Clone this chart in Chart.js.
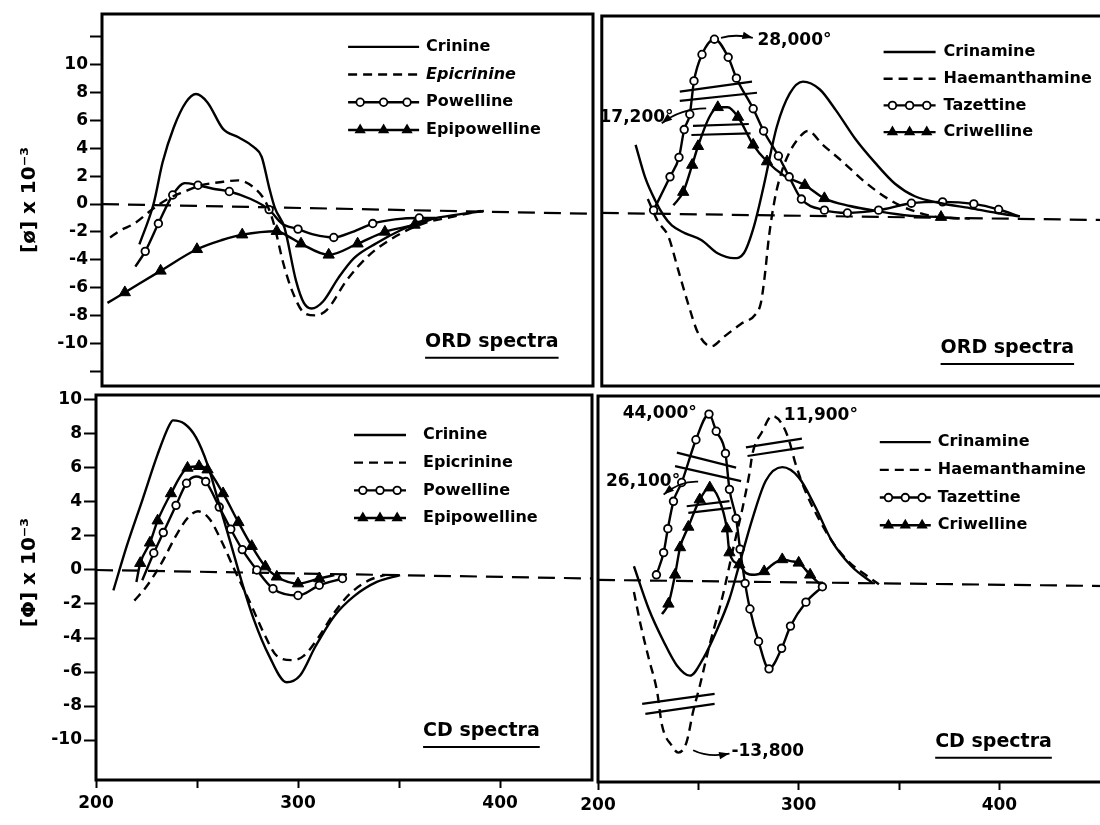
<!DOCTYPE html>
<html>
<head>
<meta charset="utf-8">
<title>ORD and CD spectra</title>
<script src="https://cdn.jsdelivr.net/npm/chart.js@4.4.1/dist/chart.umd.min.js"></script>
<style>
  html, body { margin: 0; padding: 0; background: #fff; }
  #page { position: relative; width: 1100px; height: 825px; overflow: hidden; }
  canvas { position: absolute; }
</style>
</head>
<body>
<div id="page">
  <canvas id="ordLeft" width="600" height="400" style="left:0;top:0"></canvas>
  <canvas id="ordRight" width="522" height="392" style="left:596px;top:0"></canvas>
  <canvas id="cdLeft" width="600" height="445" style="left:0;top:380px"></canvas>
  <canvas id="cdRight" width="560" height="435" style="left:558px;top:390px"></canvas>
</div>
<script>
const FONT = '"DejaVu Sans", sans-serif';

// axes
const xTicks = [200, 250, 300, 350, 400];
const xLabelled = [200, 300, 400];
const ordYTicks = [-12, -10, -8, -6, -4, -2, 0, 2, 4, 6, 8, 10, 12];
const cdYTicks = [-10, -8, -6, -4, -2, 0, 2, 4, 6, 8, 10];

// ORD, crinine series (top left)
const ordCrinineX = [221.5, 228.5, 233, 238.5, 244.5, 249.5, 255.2, 262.9, 270.5, 278, 282, 285.7, 288.6, 293.3, 299, 302.9, 306.7, 312.4, 320, 327.6, 339, 350.5, 362, 377, 392];
const ordCrinineY = [-2.9, 0, 3.0, 5.5, 7.3, 7.9, 7.3, 5.4, 4.8, 4.1, 3.4, 1.2, -0.3, -1.7, -5.5, -7.1, -7.5, -7.0, -5.3, -3.9, -2.8, -1.9, -1.2, -0.8, -0.5];
const ordEpicrinineX = [207, 212, 219, 228.6, 236, 244, 251, 263, 270.5, 278, 283.8, 287.6, 293, 297, 302.9, 308.6, 314.3, 324, 335, 348.6, 362, 377, 390.5];
const ordEpicrinineY = [-2.4, -1.9, -1.4, -0.3, 0.4, 0.9, 1.3, 1.6, 1.7, 1.2, 0.2, -1.2, -4.4, -6.2, -7.8, -8.0, -7.6, -5.5, -3.7, -2.3, -1.4, -0.9, -0.5];
const ordPowellineX = [219.5, 224.4, 230.9, 238, 244, 250.5, 258, 266, 276, 285.7, 292, 300, 308, 317.7, 327, 337, 348, 360, 368];
const ordPowellineY = [-4.5, -3.4, -1.4, 0.65, 1.5, 1.35, 1.1, 0.9, 0.4, -0.4, -1.4, -1.8, -2.2, -2.4, -2.0, -1.4, -1.1, -1.0, -1.0];
const ordPowellineM = [0, 1, 1, 1, 0, 1, 0, 1, 0, 1, 0, 1, 0, 1, 0, 1, 0, 1, 0];
const ordEpipowellineX = [205.7, 214.3, 232, 250, 262, 272.4, 289.5, 295, 301.5, 315.2, 329.5, 343, 357.7, 368];
const ordEpipowellineY = [-7.1, -6.35, -4.8, -3.25, -2.6, -2.2, -1.95, -2.3, -2.85, -3.65, -2.85, -2.0, -1.5, -1.0];
const ordEpipowellineM = [0, 1, 1, 1, 0, 1, 1, 0, 1, 1, 1, 1, 1, 0];
const ordLeftZeroX = [203, 446];
const ordLeftZeroY = [0, -0.7];

// ORD, crinamine series (top right)
const ordCrinamineX = [217.9, 222.8, 227.7, 232, 236, 242.5, 250.7, 258.9, 267.1, 272, 277, 281.9, 288.5, 295, 301.6, 309.9, 318, 327.9, 337.7, 347.6, 357.5, 370.6, 385, 398.5, 410];
const ordCrinamineY = [4.9, 2.5, 0.9, -0.2, -0.9, -1.45, -1.95, -2.9, -3.25, -2.9, -1.0, 1.9, 6.2, 8.6, 9.45, 8.9, 7.4, 5.3, 3.6, 2.1, 1.2, 0.7, 0.35, 0.0, -0.25];
const ordHaemanthamineX = [224, 229, 234.3, 239.2, 244.1, 249, 255.7, 262.2, 270.4, 277.8, 280.5, 282.5, 284.5, 287.5, 291, 295, 299, 304, 311.5, 321.3, 332.8, 344.3, 354, 369, 385];
const ordHaemanthamineY = [1.0, -0.6, -1.7, -4.1, -6.5, -8.6, -9.6, -8.9, -8.0, -7.3, -6.5, -4.5, -1.8, 1.0, 3.0, 4.4, 5.3, 5.9, 4.9, 3.7, 2.2, 1.0, 0.3, -0.3, -0.4];
const ordTazettineX = [226.9, 235.1, 239.6, 242.2, 245, 247.1, 251.1, 257.3, 264.2, 268.3, 276.7, 281.9, 289.3, 294.7, 300.8, 312.3, 323.8, 339.4, 355.8, 371.4, 387, 399.4, 410];
const ordTazettineY = [0.2, 2.6, 4.0, 6.0, 7.1, 9.5, 11.4, 12.5, 11.2, 9.7, 7.5, 5.9, 4.1, 2.6, 1.0, 0.2, 0.0, 0.2, 0.7, 0.8, 0.65, 0.25, -0.25];
const ordTazettineM = [1, 1, 1, 1, 1, 1, 1, 1, 1, 1, 1, 1, 1, 1, 1, 1, 1, 1, 1, 1, 1, 1, 0];
const ordCriwellineX = [236.8, 241.7, 246.2, 249.1, 254.8, 259, 264, 269.1, 276.7, 283.6, 292, 302.5, 312.3, 325, 340, 355, 370.6, 380];
const ordCriwellineY = [0.55, 1.5, 3.45, 4.8, 6.9, 7.6, 7.6, 6.9, 4.9, 3.7, 2.7, 2.0, 1.05, 0.5, 0.1, -0.2, -0.3, -0.4];
const ordCriwellineM = [0, 1, 1, 1, 0, 1, 0, 1, 1, 1, 0, 1, 1, 0, 0, 0, 1, 0];
const ordRightZeroX = [201, 456];
const ordRightZeroY = [0, -0.52];

// CD, crinine series (bottom left)
const cdCrinineX = [208.6, 215.2, 222.9, 230.5, 236.2, 238.1, 243.8, 249.5, 255.2, 260.9, 266.7, 272.4, 278.1, 285.7, 294.3, 301, 308.6, 318, 327.6, 339, 350.5];
const cdCrinineY = [-1.2, 1.4, 4.1, 6.8, 8.5, 8.8, 8.6, 7.8, 6.2, 3.9, 1.55, -0.8, -2.9, -5.05, -6.6, -6.2, -4.5, -2.7, -1.55, -0.7, -0.3];
const cdEpicrinineX = [219, 224.8, 232.4, 240, 245.7, 250.5, 256.2, 261.9, 268.6, 276.2, 283.8, 289.5, 297.1, 302.8, 310.5, 318, 325.7, 335.2, 342.9];
const cdEpicrinineY = [-1.8, -1.0, 0.4, 2.1, 3.1, 3.45, 3.0, 1.75, 0, -1.9, -3.9, -5.05, -5.3, -5.05, -3.9, -2.5, -1.4, -0.6, -0.3];
const cdPowellineX = [222.9, 228.6, 233.3, 239.6, 244.8, 249.5, 254.3, 261, 266.7, 272.4, 279.6, 287.6, 300, 310.5, 322];
const cdPowellineY = [-0.6, 1.0, 2.2, 3.8, 5.1, 5.5, 5.2, 3.7, 2.4, 1.2, 0.0, -1.1, -1.5, -0.9, -0.5];
const cdPowellineM = [0, 1, 1, 1, 1, 0, 1, 1, 1, 1, 1, 1, 1, 1, 1];
const cdEpipowellineX = [220, 221.9, 226.7, 230.5, 237.1, 245.3, 251, 255.2, 262.9, 270.5, 277.1, 283.8, 289.5, 300, 310.5, 318];
const cdEpipowellineY = [-0.7, 0.4, 1.6, 2.9, 4.5, 6.0, 6.1, 5.9, 4.5, 2.8, 1.4, 0.2, -0.4, -0.8, -0.5, -0.3];
const cdEpipowellineM = [0, 1, 1, 1, 1, 1, 1, 1, 1, 1, 1, 1, 1, 1, 1, 0];
const cdLeftZeroX = [200, 445.5];
const cdLeftZeroY = [0, -0.5];

// CD, crinamine series (bottom right)
const cdCrinamineX = [217.9, 225.3, 232.7, 239.3, 245.8, 252.4, 259, 265.5, 270.4, 277, 283.6, 291.8, 300, 308.2, 316.4, 326.3, 337];
const cdCrinamineY = [0.8, -1.7, -3.6, -5.0, -5.6, -4.6, -3.0, -1.1, 0.9, 3.6, 5.8, 6.6, 6.0, 4.3, 2.3, 0.8, -0.2];
const cdHaemanthamineX = [217.9, 221.2, 225.3, 229.4, 231.9, 236.8, 240, 244.1, 247.4, 250.7, 255.6, 262.2, 267.1, 272, 275.4, 277, 281.9, 286.8, 291.8, 295.1, 298.4, 303.3, 309.9, 316.4, 324.6, 334.5, 340];
const cdHaemanthamineY = [-0.7, -2.6, -4.6, -6.5, -8.5, -9.7, -10.1, -9.5, -7.7, -6.2, -3.8, -0.9, 1.7, 4.2, 6.2, 7.4, 8.7, 9.6, 9.1, 8.2, 6.8, 5.2, 3.6, 2.3, 1.1, 0.2, -0.25];
const cdTazettineX = [229.1, 232.7, 234.8, 237.6, 241.7, 248.8, 255.3, 258.9, 263.5, 265.5, 268.8, 270.8, 273.3, 275.7, 280, 285.2, 291.5, 295.9, 303.6, 311.8];
const cdTazettineY = [0.3, 1.6, 3.0, 4.6, 5.7, 8.2, 9.7, 8.7, 7.4, 5.3, 3.6, 1.8, -0.2, -1.7, -3.6, -5.2, -4.0, -2.7, -1.3, -0.4];
const cdTazettineM = [1, 1, 1, 1, 1, 1, 1, 1, 1, 1, 1, 1, 1, 1, 1, 1, 1, 1, 1, 1];
const cdCriwellineX = [231.9, 235.1, 238.4, 240.9, 245, 250.7, 255.7, 260, 264.2, 265.5, 270.4, 273.8, 278, 282.8, 287, 291.8, 296, 300, 305.7, 311];
const cdCriwellineY = [-2.0, -1.4, 0.3, 1.9, 3.1, 4.7, 5.4, 4.8, 3.0, 1.6, 0.9, 0.4, 0.3, 0.5, 0.9, 1.2, 1.1, 1.0, 0.3, -0.3];
const cdCriwellineM = [0, 1, 1, 1, 1, 1, 1, 0, 1, 1, 1, 0, 0, 1, 0, 1, 0, 1, 1, 0];
const cdRightZeroX = [200, 456];
const cdRightZeroY = [0, -0.36];

function pts(xs, ys) {
  return xs.map((x, i) => ({ x: x, y: ys[i] }));
}

function curve(label, xs, ys, dash) {
  return {
    label: label,
    data: pts(xs, ys),
    borderColor: '#000',
    borderWidth: 2.4,
    borderDash: dash || [],
    pointRadius: 0,
    cubicInterpolationMode: 'monotone',
    inLegend: true
  };
}

function marked(label, xs, ys, ms, style) {
  const ds = curve(label, xs, ys);
  const tri = style === 'triangle';
  ds.pointStyle = style;
  ds.pointRadius = ctx => ms[ctx.dataIndex] ? (tri ? 6.5 : 3.8) : 0;
  ds.pointBackgroundColor = tri ? '#000' : '#fff';
  ds.pointBorderColor = '#000';
  ds.pointBorderWidth = tri ? 1 : 1.8;
  return ds;
}

function zeroLine(xs, ys) {
  return {
    data: pts(xs, ys),
    borderColor: '#000',
    borderWidth: 2.2,
    borderDash: [17, 9],
    pointRadius: 0,
    inLegend: false
  };
}

// labels, break marks and arrows, placed in data units of each panel
const DECOR = {
  ordLeft: {
    sides: 'tlbr',
    legend: { x: 324.8, y: 11.29, gap: 27.7, len: 71, textGap: 7 },
    notes: [{ text: 'ORD spectra', x: 362.9, y: -9.9, underline: true }],
    breaks: [],
    arrows: []
  },
  ordRight: {
    sides: 'tlb',
    legend: { x: 341.9, y: 11.58, gap: 26.7, len: 52, textGap: 8 },
    notes: [
      { text: 'ORD spectra', x: 370.4, y: -9.71, underline: true },
      { text: '28,000°', x: 278.8, y: 12.4 },
      { text: '17,200°', x: 236.9, y: 6.83, align: 'right' }
    ],
    breaks: [[240.0, 8.73, 276.1, 9.45], [240.0, 8.06, 278.6, 8.65], [246.6, 6.26, 274.5, 6.40], [245.8, 5.61, 275.4, 5.73]],
    arrows: [[260.6, 12.6, 268, 12.9, 276.5, 12.6], [253.2, 7.53, 240, 7.5, 231, 6.45]]
  },
  cdLeft: {
    sides: 'tlbr',
    legend: { x: 327.7, y: 7.94, gap: 27.7, len: 52, textGap: 17 },
    notes: [{ text: 'CD spectra', x: 361.9, y: -9.47, underline: true }],
    breaks: [],
    arrows: []
  },
  cdRight: {
    sides: 'tlb',
    legend: { x: 340.4, y: 8.06, gap: 27.7, len: 51, textGap: 7 },
    notes: [
      { text: 'CD spectra', x: 368, y: -9.47, underline: true },
      { text: '44,000°', x: 212.3, y: 9.76 },
      { text: '26,100°', x: 204, y: 5.76 },
      { text: '11,900°', x: 292.6, y: 9.6 },
      { text: '-13,800', x: 266.5, y: -10.06 }
    ],
    breaks: [[239.3, 7.45, 268.8, 6.57], [238.4, 6.66, 271.3, 5.78],
             [244.2, 4.31, 265.5, 4.61], [245, 3.92, 266.4, 4.22],
             [273.7, 7.75, 301.6, 8.27], [274.5, 7.25, 302.5, 7.75],
             [222, -7.25, 258.1, -6.67], [223.6, -7.84, 258.1, -7.25]],
    arrows: [[249.9, 5.75, 241, 5.8, 232.7, 5.0], [247.4, -9.96, 255, -10.4, 265.5, -10.16]]
  }
};

function drawMark(ctx, style, x, y) {
  ctx.save();
  ctx.setLineDash([]);
  ctx.beginPath();
  if (style === 'triangle') {
    const r = 6.5;
    ctx.moveTo(x, y - r);
    ctx.lineTo(x + r * 0.866, y + r * 0.5);
    ctx.lineTo(x - r * 0.866, y + r * 0.5);
    ctx.closePath();
    ctx.fillStyle = '#000';
    ctx.fill();
  } else {
    ctx.arc(x, y, 3.8, 0, Math.PI * 2);
    ctx.fillStyle = '#fff';
    ctx.fill();
    ctx.lineWidth = 1.8;
    ctx.strokeStyle = '#000';
    ctx.stroke();
  }
  ctx.restore();
}

function drawArrow(ctx, x0, y0, cx, cy, x1, y1) {
  ctx.beginPath();
  ctx.moveTo(x0, y0);
  ctx.quadraticCurveTo(cx, cy, x1, y1);
  ctx.stroke();
  const ang = Math.atan2(y1 - cy, x1 - cx);
  ctx.beginPath();
  ctx.moveTo(x1, y1);
  ctx.lineTo(x1 - 11 * Math.cos(ang - 0.35), y1 - 11 * Math.sin(ang - 0.35));
  ctx.lineTo(x1 - 11 * Math.cos(ang + 0.35), y1 - 11 * Math.sin(ang + 0.35));
  ctx.closePath();
  ctx.fill();
}

const decorPlugin = {
  id: 'decor',
  afterDraw(chart) {
    const d = DECOR[chart.canvas.id];
    const ctx = chart.ctx;
    const a = chart.chartArea;
    const px = v => chart.scales.x.getPixelForValue(v);
    const py = v => chart.scales.y.getPixelForValue(v);
    ctx.save();
    ctx.strokeStyle = '#000';
    ctx.fillStyle = '#000';
    ctx.setLineDash([]);

    // panel frame
    ctx.lineWidth = 3;
    ctx.beginPath();
    if (d.sides.includes('t')) { ctx.moveTo(a.left - 1.5, a.top); ctx.lineTo(a.right + 1.5, a.top); }
    if (d.sides.includes('b')) { ctx.moveTo(a.left - 1.5, a.bottom); ctx.lineTo(a.right + 1.5, a.bottom); }
    if (d.sides.includes('l')) { ctx.moveTo(a.left, a.top); ctx.lineTo(a.left, a.bottom); }
    if (d.sides.includes('r')) { ctx.moveTo(a.right, a.top); ctx.lineTo(a.right, a.bottom); }
    ctx.stroke();

    // axis break marks
    ctx.lineWidth = 2.2;
    d.breaks.forEach(b => {
      ctx.beginPath();
      ctx.moveTo(px(b[0]), py(b[1]));
      ctx.lineTo(px(b[2]), py(b[3]));
      ctx.stroke();
    });

    // arrows
    ctx.lineWidth = 1.8;
    d.arrows.forEach(r => drawArrow(ctx, px(r[0]), py(r[1]), px(r[2]), py(r[3]), px(r[4]), py(r[5])));

    // notes
    ctx.textBaseline = 'middle';
    d.notes.forEach(n => {
      ctx.font = 'bold ' + (n.underline ? 19 : 17) + 'px ' + FONT;
      ctx.textAlign = n.align || 'left';
      const x = px(n.x), y = py(n.y);
      ctx.fillText(n.text, x, y);
      if (n.underline) {
        const w = ctx.measureText(n.text).width;
        ctx.lineWidth = 2;
        ctx.beginPath();
        ctx.moveTo(x, y + 16);
        ctx.lineTo(x + w, y + 16);
        ctx.stroke();
      }
    });

    // legend
    const L = d.legend;
    const x0 = px(L.x);
    let y = py(L.y);
    ctx.textAlign = 'left';
    chart.data.datasets.filter(ds => ds.inLegend).forEach(ds => {
      ctx.save();
      ctx.lineWidth = 2.4;
      ctx.setLineDash(ds.borderDash || []);
      ctx.beginPath();
      ctx.moveTo(x0, y);
      ctx.lineTo(x0 + L.len, y);
      ctx.stroke();
      ctx.restore();
      if (ds.pointStyle) {
        [0.17, 0.5, 0.83].forEach(f => drawMark(ctx, ds.pointStyle, x0 + L.len * f, y));
      }
      ctx.font = (ds.italicLabel ? 'italic ' : '') + 'bold 16px ' + FONT;
      ctx.fillText(ds.label, x0 + L.len + L.textGap, y);
      y += L.gap;
    });
    ctx.restore();
  }
};

const tickFont = { family: FONT, size: 17, weight: 'bold' };

function build(id, datasets, s) {
  return new Chart(document.getElementById(id), {
    type: 'line',
    data: { datasets: datasets },
    options: {
      responsive: false,
      animation: false,
      events: [],
      layout: { padding: s.padding },
      plugins: { legend: { display: false }, tooltip: { enabled: false } },
      scales: {
        x: {
          type: 'linear',
          min: s.xMin,
          max: s.xMax,
          display: s.showX,
          afterBuildTicks: sc => { sc.ticks = xTicks.map(v => ({ value: v })); },
          afterFit: sc => { sc.height = s.xHeight || 0; },
          ticks: {
            callback: v => xLabelled.includes(v) ? String(v) : '',
            autoSkip: false, maxRotation: 0, padding: 5,
            color: '#000', font: tickFont
          },
          grid: { drawOnChartArea: false, drawTicks: true, tickLength: 8, tickWidth: 2, tickColor: '#000' },
          border: { display: false }
        },
        y: {
          type: 'linear',
          min: s.yMin,
          max: s.yMax,
          display: !!s.yTicks,
          afterBuildTicks: sc => { if (s.yTicks) sc.ticks = s.yTicks.map(v => ({ value: v })); },
          afterFit: sc => { sc.width = s.yWidth || 0; },
          ticks: {
            callback: v => Math.abs(v) > 10 ? '' : String(v),
            autoSkip: false, padding: 2,
            color: '#000', font: tickFont
          },
          grid: { drawOnChartArea: false, drawTicks: true, tickLength: 12, tickWidth: 2, tickColor: '#000' },
          border: { display: false },
          title: {
            display: !!s.yTitle,
            text: s.yTitle || '',
            color: '#000',
            font: { family: FONT, size: 20, weight: 'bold' },
            padding: { top: 18, bottom: 0 }
          }
        }
      }
    },
    plugins: [decorPlugin]
  });
}

const ordLeftSets = [
  curve('Crinine', ordCrinineX, ordCrinineY),
  curve('Epicrinine', ordEpicrinineX, ordEpicrinineY, [9, 6]),
  marked('Powelline', ordPowellineX, ordPowellineY, ordPowellineM, 'circle'),
  marked('Epipowelline', ordEpipowellineX, ordEpipowellineY, ordEpipowellineM, 'triangle'),
  zeroLine(ordLeftZeroX, ordLeftZeroY)
];
ordLeftSets[1].italicLabel = true;

build('ordLeft', ordLeftSets, {
  xMin: 203, xMax: 446, showX: false,
  yMin: -13.07, yMax: 13.65, yTicks: ordYTicks, yWidth: 102, yTitle: '[ø] x 10⁻³',
  padding: { left: 0, top: 14, right: 7, bottom: 14 }
});

build('ordRight', [
  curve('Crinamine', ordCrinamineX, ordCrinamineY),
  curve('Haemanthamine', ordHaemanthamineX, ordHaemanthamineY, [9, 6]),
  marked('Tazettine', ordTazettineX, ordTazettineY, ordTazettineM, 'circle'),
  marked('Criwelline', ordCriwellineX, ordCriwellineY, ordCriwellineM, 'triangle'),
  zeroLine(ordRightZeroX, ordRightZeroY)
], {
  xMin: 201, xMax: 456.2, showX: false,
  yMin: -12.45, yMax: 14.17, yTicks: null,
  padding: { left: 4, top: 16, right: 0, bottom: 6 }
});

build('cdLeft', [
  curve('Crinine', cdCrinineX, cdCrinineY),
  curve('Epicrinine', cdEpicrinineX, cdEpicrinineY, [9, 6]),
  marked('Powelline', cdPowellineX, cdPowellineY, cdPowellineM, 'circle'),
  marked('Epipowelline', cdEpipowellineX, cdEpipowellineY, cdEpipowellineM, 'triangle'),
  zeroLine(cdLeftZeroX, cdLeftZeroY)
], {
  xMin: 200, xMax: 445.5, showX: true, xHeight: 45,
  yMin: -12.35, yMax: 10.29, yTicks: cdYTicks, yWidth: 96, yTitle: '\u2002\u2002\u2002[Φ] x 10⁻³',
  padding: { left: 0, top: 15, right: 8, bottom: 0 }
});

build('cdRight', [
  curve('Crinamine', cdCrinamineX, cdCrinamineY),
  curve('Haemanthamine', cdHaemanthamineX, cdHaemanthamineY, [9, 6]),
  marked('Tazettine', cdTazettineX, cdTazettineY, cdTazettineM, 'circle'),
  marked('Criwelline', cdCriwellineX, cdCriwellineY, cdCriwellineM, 'triangle'),
  zeroLine(cdRightZeroX, cdRightZeroY)
], {
  xMin: 200, xMax: 456.2, showX: true, xHeight: 43,
  yMin: -11.82, yMax: 10.76, yTicks: null,
  padding: { left: 40, top: 6, right: 0, bottom: 0 }
});
</script>
</body>
</html>
